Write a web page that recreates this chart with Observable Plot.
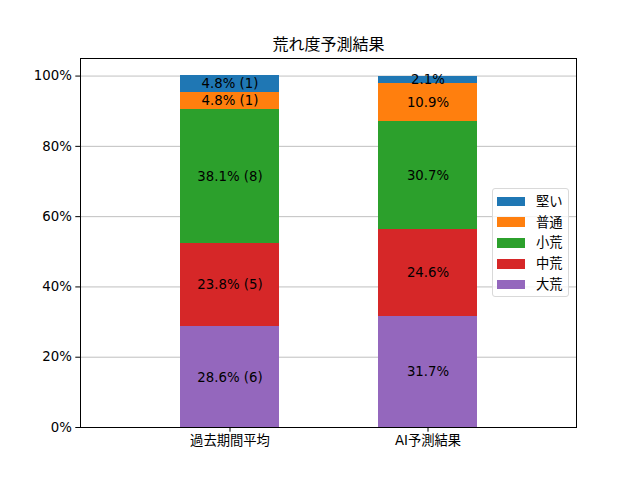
<!DOCTYPE html>
<html>
<head>
<meta charset="utf-8">
<script src="https://cdn.jsdelivr.net/npm/d3@7"></script>
<script src="https://cdn.jsdelivr.net/npm/@observablehq/plot@0.6"></script>
<style>
body { margin: 0; background: #fff; }
#wrap { position: relative; width: 640px; height: 480px; font-family: "DejaVu Sans", "Noto Sans CJK JP", sans-serif; }
#legend { position: absolute; left: 492px; top: 188px; width: 77px; height: 109px; border: 1px solid #d9d9d9; border-radius: 3px; background: rgba(255,255,255,0.8); box-sizing: border-box; padding-top: 2px; }
.item { display: flex; align-items: center; height: 20.8px; font-size: 13.3px; line-height: 13.3px; color: #000; }
.sw { width: 28px; height: 9.5px; margin-left: 4px; margin-right: 11px; }
</style>
</head>
<body>
<div id="wrap"></div>
<script>
const categories = ["過去期間平均", "AI予測結果"];
const levels = ["大荒", "中荒", "小荒", "普通", "堅い"];
const colors = ["#9467bd", "#d62728", "#2ca02c", "#ff7f0e", "#1f77b4"];
const pastValues = [28.6, 23.8, 38.1, 4.8, 4.8];
const pastCounts = [6, 5, 8, 1, 1];
const aiValues = [31.7, 24.6, 30.7, 10.9, 2.1];
const yTicks = [0, 20, 40, 60, 80, 100];
const title = "荒れ度予測結果";

const data = [];
levels.forEach((lv, i) => data.push({cat: categories[0], level: lv, value: pastValues[i], label: `${pastValues[i].toFixed(1)}% (${pastCounts[i]})`}));
levels.forEach((lv, i) => data.push({cat: categories[1], level: lv, value: aiValues[i], label: `${aiValues[i].toFixed(1)}%`}));

const font = '"DejaVu Sans", "Noto Sans CJK JP", sans-serif';

const chart = Plot.plot({
  width: 640,
  height: 480,
  marginLeft: 80,
  marginRight: 64,
  marginTop: 58,
  marginBottom: 53,
  style: {fontFamily: font, fontSize: "13.3px", color: "#000", background: "#fff"},
  x: {domain: categories, padding: 0.5, label: null, tickSize: 4.7, tickPadding: 4},
  y: {domain: [0, 105], ticks: yTicks, tickFormat: d => d + "%", label: null, tickSize: 4.7, tickPadding: 4},
  color: {domain: levels, range: colors},
  marks: [
    Plot.ruleY(yTicks, {stroke: "#b0b0b0", strokeWidth: 0.8}),
    Plot.barY(data, {x: "cat", y: "value", fill: "level", z: "level", shapeRendering: "crispEdges"}),
    Plot.text(data, Plot.stackY({x: "cat", y: "value", z: "level", text: "label", fill: "#000", fontSize: 13.3, lineAnchor: "middle"})),
    Plot.axisX({tickSize: 4.7, tickPadding: 3, fontSize: 13.3}),
    Plot.axisY({ticks: yTicks, tickFormat: d => d + "%", tickSize: 4.7, tickPadding: 4, fontSize: 13.3}),
    Plot.frame({stroke: "#000", strokeWidth: 1}),
    Plot.text([title], {frameAnchor: "top", dy: -20, text: d => d, fontSize: 16, fill: "#000"})
  ]
});

const wrap = document.getElementById("wrap");
wrap.appendChild(chart);

const legend = document.createElement("div");
legend.id = "legend";
levels.slice().reverse().forEach((lv) => {
  const item = document.createElement("div");
  item.className = "item";
  const sw = document.createElement("div");
  sw.className = "sw";
  sw.style.background = colors[levels.indexOf(lv)];
  const t = document.createElement("span");
  t.textContent = lv;
  item.appendChild(sw);
  item.appendChild(t);
  legend.appendChild(item);
});
wrap.appendChild(legend);
</script>
</body>
</html>
